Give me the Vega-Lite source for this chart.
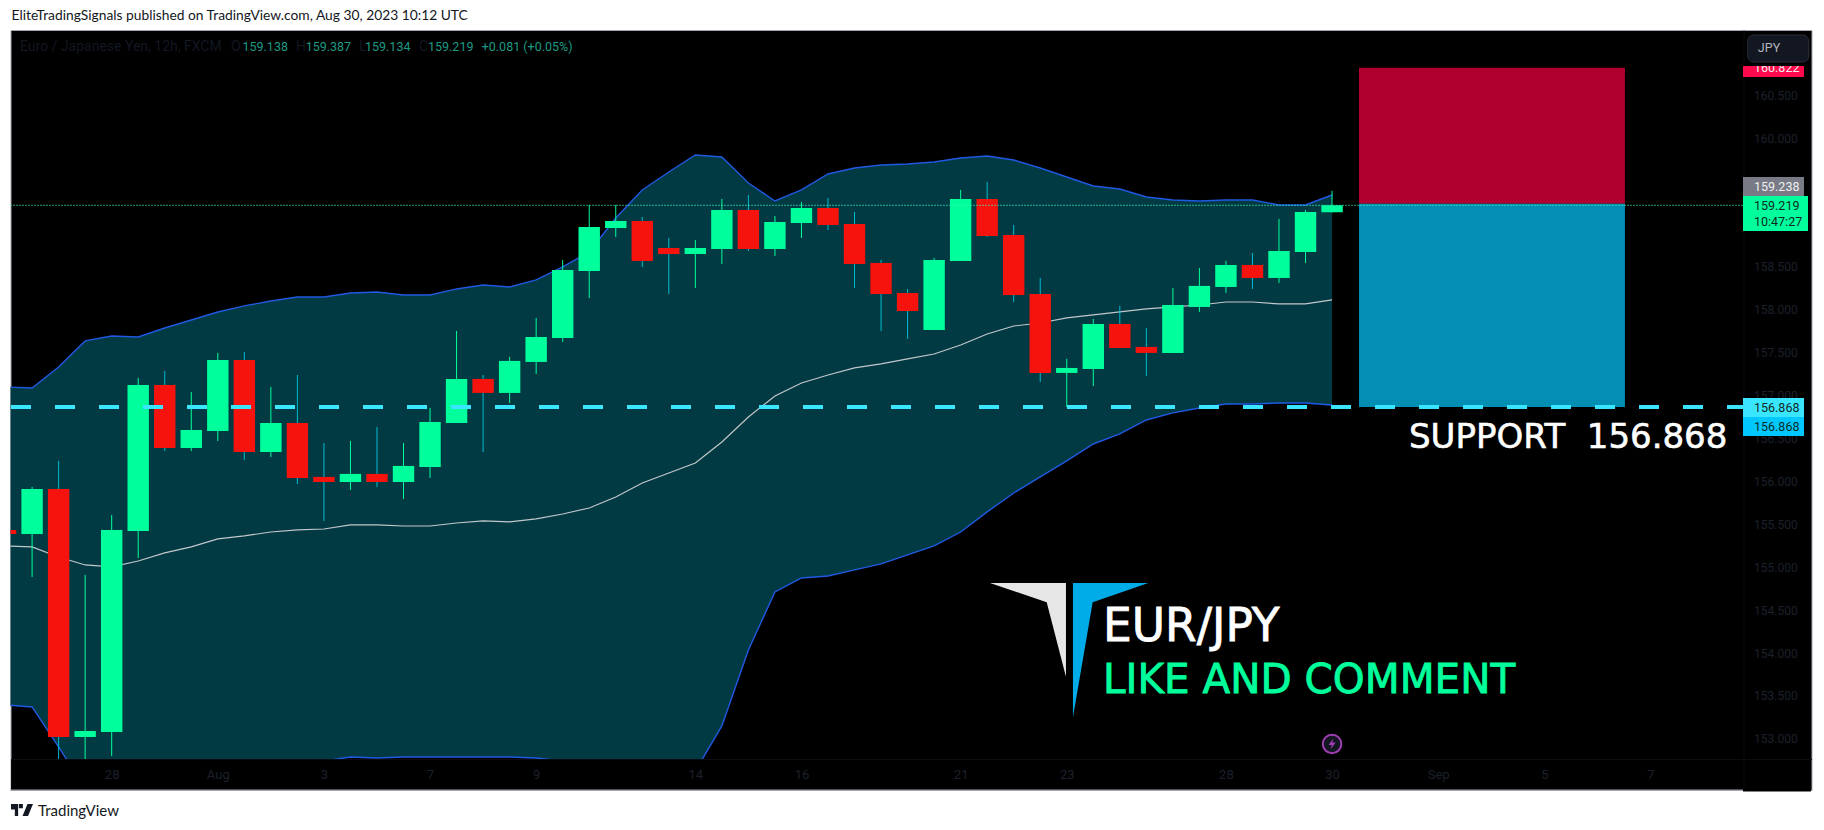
{"$schema":"https://vega.github.io/schema/vega-lite/v6.json","autosize":{"type":"none"},"width":1801,"height":760,"padding":{"left":10.5,"top":30,"right":12.5,"bottom":40},"background":"#ffffff","view":{"fill":"#000000","stroke":"#a3a6af","strokeWidth":1},"config":{"scale":{"continuousPadding":0}},
"title":{"text":"EliteTradingSignals published on TradingView.com, Aug 30, 2023 10:12 UTC","anchor":"start","frame":"group","font":"Lato","fontSize":13.8,"fontWeight":"normal","color":"#131722","offset":7,"dx":1},
"datasets":{
"candles":[
{"bar":-1,"open":155.435,"high":155.447,"low":155.377,"close":155.388,"dir":"down"},
{"bar":0,"open":155.388,"high":155.936,"low":154.887,"close":155.913,"dir":"up"},
{"bar":1,"open":155.913,"high":156.239,"low":152.638,"close":153.023,"dir":"down"},
{"bar":2,"open":153.023,"high":154.911,"low":152.58,"close":153.093,"dir":"up"},
{"bar":3,"open":153.081,"high":155.61,"low":152.801,"close":155.435,"dir":"up"},
{"bar":4,"open":155.423,"high":157.206,"low":155.109,"close":157.125,"dir":"up"},
{"bar":5,"open":157.125,"high":157.288,"low":156.355,"close":156.39,"dir":"down"},
{"bar":6,"open":156.39,"high":157.043,"low":156.355,"close":156.6,"dir":"up"},
{"bar":7,"open":156.588,"high":157.498,"low":156.472,"close":157.416,"dir":"up"},
{"bar":8,"open":157.416,"high":157.51,"low":156.25,"close":156.344,"dir":"down"},
{"bar":9,"open":156.344,"high":157.102,"low":156.285,"close":156.682,"dir":"up"},
{"bar":10,"open":156.682,"high":157.241,"low":155.971,"close":156.041,"dir":"down"},
{"bar":11,"open":156.053,"high":156.448,"low":155.54,"close":155.994,"dir":"down"},
{"bar":12,"open":155.994,"high":156.472,"low":155.901,"close":156.088,"dir":"up"},
{"bar":13,"open":156.088,"high":156.635,"low":155.936,"close":155.994,"dir":"down"},
{"bar":14,"open":155.994,"high":156.448,"low":155.796,"close":156.181,"dir":"up"},
{"bar":15,"open":156.169,"high":156.857,"low":156.041,"close":156.694,"dir":"up"},
{"bar":16,"open":156.682,"high":157.754,"low":156.682,"close":157.195,"dir":"up"},
{"bar":17,"open":157.195,"high":157.241,"low":156.344,"close":157.032,"dir":"down"},
{"bar":18,"open":157.032,"high":157.451,"low":156.915,"close":157.405,"dir":"up"},
{"bar":19,"open":157.393,"high":157.906,"low":157.253,"close":157.684,"dir":"up"},
{"bar":20,"open":157.673,"high":158.582,"low":157.626,"close":158.465,"dir":"up"},
{"bar":21,"open":158.453,"high":159.223,"low":158.139,"close":158.966,"dir":"up"},
{"bar":22,"open":158.955,"high":159.223,"low":158.85,"close":159.036,"dir":"up"},
{"bar":23,"open":159.036,"high":159.083,"low":158.5,"close":158.57,"dir":"down"},
{"bar":24,"open":158.722,"high":158.838,"low":158.185,"close":158.652,"dir":"down"},
{"bar":25,"open":158.652,"high":158.815,"low":158.255,"close":158.722,"dir":"up"},
{"bar":26,"open":158.71,"high":159.293,"low":158.535,"close":159.164,"dir":"up"},
{"bar":27,"open":159.164,"high":159.339,"low":158.687,"close":158.71,"dir":"down"},
{"bar":28,"open":158.71,"high":159.094,"low":158.628,"close":159.025,"dir":"up"},
{"bar":29,"open":159.013,"high":159.258,"low":158.838,"close":159.188,"dir":"up"},
{"bar":30,"open":159.188,"high":159.304,"low":158.931,"close":158.99,"dir":"down"},
{"bar":31,"open":159.001,"high":159.141,"low":158.255,"close":158.535,"dir":"down"},
{"bar":32,"open":158.547,"high":158.582,"low":157.754,"close":158.185,"dir":"down"},
{"bar":33,"open":158.197,"high":158.244,"low":157.661,"close":157.987,"dir":"down"},
{"bar":34,"open":157.766,"high":158.605,"low":157.766,"close":158.582,"dir":"up"},
{"bar":35,"open":158.57,"high":159.398,"low":158.57,"close":159.293,"dir":"up"},
{"bar":36,"open":159.293,"high":159.491,"low":158.85,"close":158.861,"dir":"down"},
{"bar":37,"open":158.873,"high":158.99,"low":158.092,"close":158.174,"dir":"down"},
{"bar":38,"open":158.185,"high":158.372,"low":157.16,"close":157.265,"dir":"down"},
{"bar":39,"open":157.265,"high":157.428,"low":156.868,"close":157.323,"dir":"up"},
{"bar":40,"open":157.311,"high":157.894,"low":157.113,"close":157.836,"dir":"up"},
{"bar":41,"open":157.836,"high":158.046,"low":157.556,"close":157.556,"dir":"down"},
{"bar":42,"open":157.568,"high":157.789,"low":157.23,"close":157.498,"dir":"down"},
{"bar":43,"open":157.498,"high":158.255,"low":157.498,"close":158.057,"dir":"up"},
{"bar":44,"open":158.034,"high":158.488,"low":157.976,"close":158.279,"dir":"up"},
{"bar":45,"open":158.267,"high":158.57,"low":158.197,"close":158.523,"dir":"up"},
{"bar":46,"open":158.523,"high":158.663,"low":158.244,"close":158.372,"dir":"down"},
{"bar":47,"open":158.372,"high":159.06,"low":158.314,"close":158.687,"dir":"up"},
{"bar":48,"open":158.675,"high":159.164,"low":158.547,"close":159.141,"dir":"up"},
{"bar":49,"open":159.138,"high":159.387,"low":159.134,"close":159.219,"dir":"up"}
],
"bands":[
{"bar":-1,"upper":157.102,"mid":155.249,"lower":153.395},
{"bar":0,"upper":157.09,"mid":155.237,"lower":153.372},
{"bar":1,"upper":157.335,"mid":155.12,"lower":152.906},
{"bar":2,"upper":157.638,"mid":155.027,"lower":152.416},
{"bar":3,"upper":157.696,"mid":155.004,"lower":152.311},
{"bar":4,"upper":157.684,"mid":155.073,"lower":152.463},
{"bar":5,"upper":157.789,"mid":155.167,"lower":152.544},
{"bar":6,"upper":157.882,"mid":155.237,"lower":152.591},
{"bar":7,"upper":157.975,"mid":155.33,"lower":152.684},
{"bar":8,"upper":158.046,"mid":155.365,"lower":152.684},
{"bar":9,"upper":158.104,"mid":155.411,"lower":152.719},
{"bar":10,"upper":158.15,"mid":155.435,"lower":152.719},
{"bar":11,"upper":158.15,"mid":155.446,"lower":152.742},
{"bar":12,"upper":158.197,"mid":155.493,"lower":152.789},
{"bar":13,"upper":158.209,"mid":155.493,"lower":152.777},
{"bar":14,"upper":158.174,"mid":155.481,"lower":152.789},
{"bar":15,"upper":158.174,"mid":155.481,"lower":152.789},
{"bar":16,"upper":158.244,"mid":155.516,"lower":152.789},
{"bar":17,"upper":158.29,"mid":155.54,"lower":152.789},
{"bar":18,"upper":158.267,"mid":155.528,"lower":152.789},
{"bar":19,"upper":158.349,"mid":155.563,"lower":152.777},
{"bar":20,"upper":158.5,"mid":155.621,"lower":152.742},
{"bar":21,"upper":158.675,"mid":155.691,"lower":152.708},
{"bar":22,"upper":159.071,"mid":155.819,"lower":152.568},
{"bar":23,"upper":159.398,"mid":155.983,"lower":152.568},
{"bar":24,"upper":159.607,"mid":156.099,"lower":152.591},
{"bar":25,"upper":159.805,"mid":156.216,"lower":152.626},
{"bar":26,"upper":159.782,"mid":156.46,"lower":153.151},
{"bar":27,"upper":159.479,"mid":156.752,"lower":154.036},
{"bar":28,"upper":159.269,"mid":156.997,"lower":154.712},
{"bar":29,"upper":159.398,"mid":157.148,"lower":154.875},
{"bar":30,"upper":159.584,"mid":157.241,"lower":154.899},
{"bar":31,"upper":159.654,"mid":157.323,"lower":154.969},
{"bar":32,"upper":159.689,"mid":157.37,"lower":155.039},
{"bar":33,"upper":159.701,"mid":157.428,"lower":155.144},
{"bar":34,"upper":159.724,"mid":157.486,"lower":155.249},
{"bar":35,"upper":159.77,"mid":157.591,"lower":155.411},
{"bar":36,"upper":159.794,"mid":157.719,"lower":155.645},
{"bar":37,"upper":159.747,"mid":157.812,"lower":155.866},
{"bar":38,"upper":159.654,"mid":157.847,"lower":156.053},
{"bar":39,"upper":159.549,"mid":157.906,"lower":156.239},
{"bar":40,"upper":159.444,"mid":157.941,"lower":156.437},
{"bar":41,"upper":159.409,"mid":157.976,"lower":156.554},
{"bar":42,"upper":159.316,"mid":158.011,"lower":156.717},
{"bar":43,"upper":159.281,"mid":158.034,"lower":156.799},
{"bar":44,"upper":159.269,"mid":158.057,"lower":156.857},
{"bar":45,"upper":159.281,"mid":158.092,"lower":156.903},
{"bar":46,"upper":159.281,"mid":158.092,"lower":156.903},
{"bar":47,"upper":159.223,"mid":158.069,"lower":156.915},
{"bar":48,"upper":159.223,"mid":158.069,"lower":156.915},
{"bar":49,"upper":159.339,"mid":158.116,"lower":156.892}
],
"zones":[
{"kind":"risk","b0":50.015,"b1":60.04,"p0":160.822,"p1":159.238},
{"kind":"reward","b0":50.015,"b1":60.04,"p0":159.238,"p1":156.868},
{"kind":"cover","b0":-0.79,"b1":64.49,"p0":152.766,"p1":152.404},
{"kind":"cover","b0":64.49,"b1":67.05,"p0":152.416,"p1":152.387},
{"kind":"tagHigh","b0":64.49,"b1":66.79,"p0":160.843,"p1":160.715},
{"kind":"tagGray","b0":64.49,"b1":66.79,"p0":159.549,"p1":159.328},
{"kind":"tagGreen","b0":64.49,"b1":66.94,"p0":159.328,"p1":158.92},
{"kind":"tagCyan","b0":64.49,"b1":66.79,"p0":156.973,"p1":156.752},
{"kind":"tagBlue","b0":64.49,"b1":66.79,"p0":156.752,"p1":156.53}
],
"legendText":[
{"text":"Euro / Japanese Yen, 12h, FXCM","bar":-0.456,"price":161.064,"tone":"dim"},
{"text":"O","bar":7.497,"price":161.064,"tone":"dim"},
{"text":"159.138","bar":7.931,"price":161.064,"tone":"teal"},
{"text":"H","bar":9.947,"price":161.064,"tone":"dim"},
{"text":"159.387","bar":10.313,"price":161.064,"tone":"teal"},
{"text":"L","bar":12.322,"price":161.064,"tone":"dim"},
{"text":"159.134","bar":12.548,"price":161.064,"tone":"teal"},
{"text":"C","bar":14.584,"price":161.064,"tone":"dim"},
{"text":"159.219","bar":14.923,"price":161.064,"tone":"teal"},
{"text":"+0.081 (+0.05%)","bar":16.947,"price":161.064,"tone":"teal"}
],
"tagText":[
{"text":"160.822","bar":64.904,"price":160.819,"tone":"light"},
{"text":"159.238","bar":64.904,"price":159.433,"tone":"light"},
{"text":"159.219","bar":64.904,"price":159.211,"tone":"dark"},
{"text":"10:47:27","bar":64.904,"price":159.025,"tone":"dark"},
{"text":"156.868","bar":64.904,"price":156.857,"tone":"dark"},
{"text":"156.868","bar":64.904,"price":156.635,"tone":"dark"}
],
"logoArea":[
{"part":"white","bar":36.106,"top":154.817,"bottom":154.817},
{"part":"white","bar":38.244,"top":154.817,"bottom":154.592},
{"part":"white","bar":38.97,"top":154.817,"bottom":153.725},
{"part":"blue","bar":39.234,"top":154.817,"bottom":153.252},
{"part":"blue","bar":39.977,"top":154.817,"bottom":154.592},
{"part":"blue","bar":42.073,"top":154.817,"bottom":154.817}
]
},
"resolve":{"scale":{"color":"independent"}},
"layer":[
{"data":{"name":"bands"},"mark":{"type":"area","clip":true,"color":"#023a43"},"encoding":{
"x":{"field":"bar","type":"quantitative","scale":{"domain":[-0.814,67.072],"nice":false,"zero":false},
"axis":{"orient":"bottom","offset":-31,"title":null,"values":[3,7,11,15,19,25,29,35,39,45,49,53,57,61],"labelExpr":"['28','Aug','3','7','9','14','16','21','23','28','30','Sep','5','7'][indexof([3,7,11,15,19,25,29,35,39,45,49,53,57,61],datum.value)]","labelFont":"Roboto","labelFontSize":13,"labelColor":"#1c202c","labelPadding":9,"labelBaseline":"top","labelFontWeight":{"expr":"datum.label=='Aug'||datum.label=='Sep'?'bold':'normal'"},"ticks":false,"grid":false,"domain":true,"domainColor":"#0b0d12","zindex":1,"labelOverlap":false,"labelBound":false,"labelFlush":false}},
"y":{"field":"upper","type":"quantitative","scale":{"domain":[152.404,161.262],"nice":false,"zero":false},
"axis":{"orient":"right","offset":-68,"title":null,"values":[153,153.5,154,154.5,155,155.5,156,156.5,157,157.5,158,158.5,160,160.5],"format":".3f","labelFont":"Roboto","labelFontSize":12,"labelColor":"#1c202c","labelPadding":10,"ticks":false,"grid":false,"domain":true,"domainColor":"#0b0d12","zindex":0,"labelOverlap":false,"labelBound":false,"labelFlush":false}},
"y2":{"field":"lower"}}},
{"data":{"name":"bands"},"mark":{"type":"line","clip":true,"color":"#2059e2","strokeWidth":1.4},"encoding":{"x":{"field":"bar","type":"quantitative","scale":{"domain":[-0.814,67.072],"nice":false,"zero":false}},"y":{"field":"upper","type":"quantitative","scale":{"domain":[152.404,161.262],"nice":false,"zero":false}}}},
{"data":{"name":"bands"},"mark":{"type":"line","clip":true,"color":"#2059e2","strokeWidth":1.4},"encoding":{"x":{"field":"bar","type":"quantitative","scale":{"domain":[-0.814,67.072],"nice":false,"zero":false}},"y":{"field":"lower","type":"quantitative","scale":{"domain":[152.404,161.262],"nice":false,"zero":false}}}},
{"data":{"name":"bands"},"mark":{"type":"line","clip":true,"color":"#c3c7cb","strokeWidth":1.2},"encoding":{"x":{"field":"bar","type":"quantitative","scale":{"domain":[-0.814,67.072],"nice":false,"zero":false}},"y":{"field":"mid","type":"quantitative","scale":{"domain":[152.404,161.262],"nice":false,"zero":false}}}},
{"data":{"name":"candles"},"mark":{"type":"rule","clip":true,"strokeWidth":1},"encoding":{"x":{"field":"bar","type":"quantitative","scale":{"domain":[-0.814,67.072],"nice":false,"zero":false}},"y":{"field":"low","type":"quantitative","scale":{"domain":[152.404,161.262],"nice":false,"zero":false}},"y2":{"field":"high"},"color":{"field":"dir","type":"nominal","legend":null,"scale":{"domain":["up","down"],"range":["#00ff9c","#00bcd4"]}}}},
{"data":{"name":"candles"},"mark":{"type":"bar","clip":true,"size":21.4,"stroke":null},"encoding":{"x":{"field":"bar","type":"quantitative","scale":{"domain":[-0.814,67.072],"nice":false,"zero":false}},"y":{"field":"open","type":"quantitative","scale":{"domain":[152.404,161.262],"nice":false,"zero":false}},"y2":{"field":"close"},"color":{"field":"dir","type":"nominal","legend":null,"scale":{"domain":["up","down"],"range":["#00ff9c","#f7130d"]}}}},
{"data":{"name":"zones"},"mark":{"type":"rect","stroke":null},"encoding":{"x":{"field":"b0","type":"quantitative","scale":{"domain":[-0.814,67.072],"nice":false,"zero":false}},"x2":{"field":"b1"},"y":{"field":"p0","type":"quantitative","scale":{"domain":[152.404,161.262],"nice":false,"zero":false}},"y2":{"field":"p1"},"color":{"field":"kind","type":"nominal","legend":null,"scale":{"domain":["risk","reward","cover","tagHigh","tagGray","tagGreen","tagCyan","tagBlue"],"range":["#b0002f","#028fb3","#000000","#ff0a4d","#787b86","#00ff9c","#3ae6ff","#00c8ff"]}}}},
{"data":{"values":[{"bar0":-0.814,"bar1":64.49,"price":152.404}]},"mark":{"type":"rule","color":"#a3a6af","strokeWidth":1},"encoding":{"x":{"field":"bar0","type":"quantitative","scale":{"domain":[-0.814,67.072],"nice":false,"zero":false}},"x2":{"field":"bar1"},"y":{"field":"price","type":"quantitative","scale":{"domain":[152.404,161.262],"nice":false,"zero":false}}}},
{"data":{"values":[{"bar0":-0.814,"bar1":64.49,"price":159.219}]},"mark":{"type":"rule","color":"#33ffb8","strokeWidth":1.2,"strokeDash":[1,2]},"encoding":{"x":{"field":"bar0","type":"quantitative","scale":{"domain":[-0.814,67.072],"nice":false,"zero":false}},"x2":{"field":"bar1"},"y":{"field":"price","type":"quantitative","scale":{"domain":[152.404,161.262],"nice":false,"zero":false}}}},
{"data":{"values":[{"bar0":-0.795,"bar1":64.49,"price":156.868}]},"mark":{"type":"rule","color":"#3ae6ff","strokeWidth":4,"strokeDash":[20,24]},"encoding":{"x":{"field":"bar0","type":"quantitative","scale":{"domain":[-0.814,67.072],"nice":false,"zero":false}},"x2":{"field":"bar1"},"y":{"field":"price","type":"quantitative","scale":{"domain":[152.404,161.262],"nice":false,"zero":false}}}},
{"data":{"name":"logoArea"},"mark":{"type":"area","stroke":null},"encoding":{"x":{"field":"bar","type":"quantitative","scale":{"domain":[-0.814,67.072],"nice":false,"zero":false}},"y":{"field":"top","type":"quantitative","scale":{"domain":[152.404,161.262],"nice":false,"zero":false}},"y2":{"field":"bottom"},"color":{"field":"part","type":"nominal","legend":null,"scale":{"domain":["white","blue"],"range":["#e6e6e6","#00ace8"]}}}},
{"data":{"values":[{"text":"SUPPORT\u00a0\u00a0156.868","bar":51.9,"price":156.391}]},"mark":{"type":"text","font":"DejaVu Sans","fontSize":34,"color":"#ffffff","stroke":"#ffffff","strokeWidth":0.6,"align":"left","baseline":"alphabetic"},"encoding":{"text":{"field":"text"},"x":{"field":"bar","type":"quantitative","scale":{"domain":[-0.814,67.072],"nice":false,"zero":false}},"y":{"field":"price","type":"quantitative","scale":{"domain":[152.404,161.262],"nice":false,"zero":false}}}},
{"data":{"values":[{"text":"EUR/JPY","bar":40.365,"price":154.145}]},"mark":{"type":"text","font":"DejaVu Sans","fontSize":45.5,"color":"#ffffff","stroke":"#ffffff","strokeWidth":0.8,"align":"left","baseline":"alphabetic"},"encoding":{"text":{"field":"text"},"x":{"field":"bar","type":"quantitative","scale":{"domain":[-0.814,67.072],"nice":false,"zero":false}},"y":{"field":"price","type":"quantitative","scale":{"domain":[152.404,161.262],"nice":false,"zero":false}}}},
{"data":{"values":[{"text":"LIKE AND COMMENT","bar":40.365,"price":153.539}]},"mark":{"type":"text","font":"DejaVu Sans","fontSize":40.5,"color":"#00ff9c","stroke":"#00ff9c","strokeWidth":0.8,"align":"left","baseline":"alphabetic"},"encoding":{"text":{"field":"text"},"x":{"field":"bar","type":"quantitative","scale":{"domain":[-0.814,67.072],"nice":false,"zero":false}},"y":{"field":"price","type":"quantitative","scale":{"domain":[152.404,161.262],"nice":false,"zero":false}}}},
{"data":{"name":"legendText"},"mark":{"type":"text","font":"Roboto","align":"left","baseline":"middle"},"encoding":{"text":{"field":"text"},"size":{"field":"tone","type":"nominal","legend":null,"scale":{"domain":["dim","teal"],"range":[14,12.5]}},"x":{"field":"bar","type":"quantitative","scale":{"domain":[-0.814,67.072],"nice":false,"zero":false}},"y":{"field":"price","type":"quantitative","scale":{"domain":[152.404,161.262],"nice":false,"zero":false}},"color":{"field":"tone","type":"nominal","legend":null,"scale":{"domain":["dim","teal"],"range":["#131722","#1c9a85"]}}}},
{"data":{"name":"tagText"},"mark":{"type":"text","font":"Roboto","fontSize":12.5,"align":"left","baseline":"middle"},"encoding":{"text":{"field":"text"},"x":{"field":"bar","type":"quantitative","scale":{"domain":[-0.814,67.072],"nice":false,"zero":false}},"y":{"field":"price","type":"quantitative","scale":{"domain":[152.404,161.262],"nice":false,"zero":false}},"color":{"field":"tone","type":"nominal","legend":null,"scale":{"domain":["light","dark"],"range":["#eeeeee","#0f2a22"]}}}},
{"data":{"values":[{"b0":64.49,"b1":66.9,"p0":160.889,"p1":160.843}]},"mark":{"type":"rect","color":"#000000","stroke":null},"encoding":{"x":{"field":"b0","type":"quantitative","scale":{"domain":[-0.814,67.072],"nice":false,"zero":false}},"x2":{"field":"b1"},"y":{"field":"p0","type":"quantitative","scale":{"domain":[152.404,161.262],"nice":false,"zero":false}},"y2":{"field":"p1"}}},
{"data":{"values":[{"b0":64.67,"b1":66.97,"p0":161.204,"p1":160.889}]},"mark":{"type":"rect","color":"#131722","stroke":"#2a2e39","strokeWidth":1,"cornerRadius":6},"encoding":{"x":{"field":"b0","type":"quantitative","scale":{"domain":[-0.814,67.072],"nice":false,"zero":false}},"x2":{"field":"b1"},"y":{"field":"p0","type":"quantitative","scale":{"domain":[152.404,161.262],"nice":false,"zero":false}},"y2":{"field":"p1"}}},
{"data":{"values":[{"text":"JPY","bar":65.05,"price":161.052}]},"mark":{"type":"text","font":"Roboto","fontSize":12.5,"color":"#b2b5be","align":"left","baseline":"middle"},"encoding":{"text":{"field":"text"},"x":{"field":"bar","type":"quantitative","scale":{"domain":[-0.814,67.072],"nice":false,"zero":false}},"y":{"field":"price","type":"quantitative","scale":{"domain":[152.404,161.262],"nice":false,"zero":false}}}},
{"data":{"values":[{"bar":49,"price":152.941}]},"mark":{"type":"point","shape":"circle","size":340,"filled":true,"fill":"#131722","stroke":"#a03db5","strokeWidth":2,"opacity":1},"encoding":{"x":{"field":"bar","type":"quantitative","scale":{"domain":[-0.814,67.072],"nice":false,"zero":false}},"y":{"field":"price","type":"quantitative","scale":{"domain":[152.404,161.262],"nice":false,"zero":false}}}},
{"data":{"values":[{"bar":49,"price":152.941}]},"mark":{"type":"point","shape":"M.25,-1 L-.65,.2 H-.05 L-.3,1 L.65,-.25 H.05 Z","size":121,"filled":true,"fill":"#a03db5","stroke":null,"opacity":1},"encoding":{"x":{"field":"bar","type":"quantitative","scale":{"domain":[-0.814,67.072],"nice":false,"zero":false}},"y":{"field":"price","type":"quantitative","scale":{"domain":[152.404,161.262],"nice":false,"zero":false}}}},
{"data":{"values":[{"bar":-0.381,"price":152.171}]},"mark":{"type":"point","shape":"M-1,-.55 H-.35 V.55 H-.65 V-.05 H-1 Z M-.28,-.55 H.08 V-.15 H-.28 Z M.05,.55 L.5,-.55 H1 L.55,.55 Z","size":484,"filled":true,"fill":"#131722","stroke":null,"opacity":1},"encoding":{"x":{"field":"bar","type":"quantitative","scale":{"domain":[-0.814,67.072],"nice":false,"zero":false}},"y":{"field":"price","type":"quantitative","scale":{"domain":[152.404,161.262],"nice":false,"zero":false}}}},
{"data":{"values":[{"text":"TradingView","bar":0.222,"price":152.16}]},"mark":{"type":"text","font":"Lato","fontSize":15,"color":"#131722","align":"left","baseline":"middle"},"encoding":{"text":{"field":"text"},"x":{"field":"bar","type":"quantitative","scale":{"domain":[-0.814,67.072],"nice":false,"zero":false}},"y":{"field":"price","type":"quantitative","scale":{"domain":[152.404,161.262],"nice":false,"zero":false}}}}
]}
